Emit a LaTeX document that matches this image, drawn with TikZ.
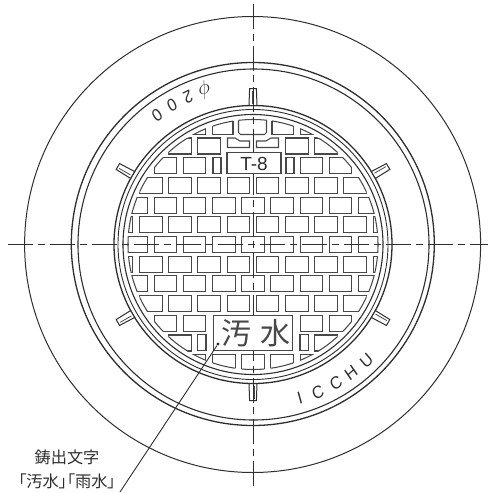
\documentclass[tikz,border=0pt]{standalone}
\usepackage{fontspec}
\setmainfont{Liberation Sans}
\newfontfamily\cjk{Noto Sans CJK JP}
\newfontfamily\cjktight[RawFeature=+palt]{Noto Sans CJK JP}
\definecolor{ink}{HTML}{2E2E2E}
\definecolor{brickink}{HTML}{484848}
\tikzset{
  ring/.style={draw=ink,line width=#1},
  brk/.style={draw=brickink,line width=1.05},
  centerh/.style={draw=ink,line width=1,dash pattern=on 25 off 5 on 7 off 5},
  centerv/.style={draw=ink,line width=1,dash pattern=on 25 off 4.5 on 7 off 5},
  cast/.style={text=ink,inner sep=0,font=\fontsize{17.5}{17.5}\selectfont,xscale=0.9},
  lab/.style={text=ink,inner sep=0,font=\cjk\fontsize{16.2}{17}\selectfont},
  big/.style={text=brickink,inner sep=0,font=\cjk\fontsize{30}{30}\selectfont},
}
\newcommand{\brickpath}[1]{%
  \begin{scope}\clip (c) circle[radius=125]; \draw[brk] #1; \end{scope}%
  \begin{scope}\clip #1; \draw[brk] (c) circle[radius=125]; \end{scope}}
\newcommand{\brickat}[2]{\brickpath{({253+(#1)-11.3},{244.5+(#2)*19.7-8}) rectangle ({253+(#1)+11.3},{244.5+(#2)*19.7+8})}}
\begin{document}
\begin{tikzpicture}[x=1pt,y=-1pt]
\useasboundingbox (0,0) rectangle (488,493);
\coordinate (c) at (253,244.5);
% outer rings
\draw[ring=1.0] (252.6,244.5) circle[radius=228];
\draw[ring=1.3] (252.8,244) circle[radius=181.5];
\draw[ring=1.1] (253.5,244.5) circle[radius=175.5];
\draw[ring=1.3] (c) circle[radius=139];
\draw[ring=0.9] (c) circle[radius=135];
\draw[ring=1.1] (c) circle[radius=130];
% tabs
\foreach \a in {90,150,210,270,330,30}{
  \begin{scope}[shift={(c)},rotate=\a]
    \draw[ring=1,fill=white] (139,-4) -- (156,-3.4) -- (156,3.4) -- (139,4) -- cycle;
    \draw[draw=brickink,line width=0.8] (141,-1) -- (154,-1);
  \end{scope}
}
% regular rows
\foreach \k in {-2,0,2}{\foreach \j in {-4,...,4}{\brickat{\j*29.2}{\k}}}
\foreach \k in {-3,-1,1,3}{\foreach \j in {-5,...,4}{\brickat{14.6+\j*29.2}{\k}}}
\foreach \j in {-4,-3,-2,2,3,4}{\brickat{\j*29.2}{4}\brickat{\j*29.2}{-4}}
\foreach \j in {-73,-102.2,73,102.2}{\brickat{\j}{5}}
\foreach \j in {-43.8,-73,-102.2,43.8,73,102.2}{\brickat{\j}{-5}}
\foreach \j in {-3,...,3}{\brickat{\j*29.2}{6}}
\foreach \j in {-3,-2,2,3}{\brickat{\j*29.2}{-6}}
% special bricks
\brickpath{(197.5,334.5) rectangle (206,350.5)}
\brickpath{(300,334.5) rectangle (308.5,350.5)}
\brickpath{(213,157.5) rectangle (221,173.5)}
\brickpath{(286,157.5) rectangle (294,173.5)}
\brickpath{(212.5,117) rectangle (233,134.5)}
\brickpath{(272,117) rectangle (293.5,134.5)}
\brickpath{(227.5,138) -- (235,138) -- (240,141) -- (249.5,141) -- (249.5,147.5) -- (227.5,147.5) -- cycle}
\brickpath{(256.5,141) -- (266,141) -- (271,138) -- (278.5,138) -- (278.5,147.5) -- (256.5,147.5) -- cycle}
\brickpath{(238.5,110) -- (238.5,132.5) -- (240.5,134.5) -- (264.5,134.5) -- (266.5,132.5) -- (266.5,110) -- cycle}
% center lines
\coordinate (hl) at (8,244.5);
\coordinate (hr) at (488,244.5);
\coordinate (vt) at (253,4);
\coordinate (vb) at (253,488);
\draw[centerh] (hl) -- (hr);
\draw[centerv] (vt) -- (vb);
% plates
\node[brk,draw,fill=white,minimum width=54,minimum height=20.5,inner sep=0] (tplate) at (254,163) {};
\node[brk,draw,fill=white,minimum width=79.5,minimum height=35.5,inner sep=0] (nplate) at (253,333) {};
% plate text
\node[text=ink,inner sep=0,font=\fontsize{19}{19}\selectfont] (t8) at (254,164) {T-8};
\node[big] (ch1) at (236,333) {汚};
\node[big] (ch2) at (275,333) {水};
% cast marks
\node[cast,rotate=216.5] (p1) at (157,115) {0};
\node[cast,rotate=210] (p2) at (172,105) {0};
\node[cast,rotate=203.8] (p3) at (188,97) {2};
\node[text=ink,inner sep=0,font=\fontsize{20}{20}\selectfont,rotate=197] (p4) at (205,90) {$\phi$};
\node[cast,rotate=17] (i1) at (300,398) {I};
\node[cast,rotate=23.8] (i2) at (318,392) {C};
\node[cast,rotate=31] (i3) at (336,383) {C};
\node[cast,rotate=37.6] (i4) at (351,373) {H};
\node[cast,rotate=43.6] (i5) at (366.5,360.5) {U};
% leader
\node[circle,fill=ink,inner sep=0,minimum size=3.4] (dot) at (218,344) {};
\coordinate (lead) at (120,492);
\draw[ring=0.9] (dot) -- (lead);
\node[lab] (l1) at (67,457) {鋳出文字};
\node[text=ink,inner sep=0,font=\cjktight\fontsize{16.2}{17}\selectfont] (l2) at (67,481) {「汚水」「雨水」};
\end{tikzpicture}
\end{document}
